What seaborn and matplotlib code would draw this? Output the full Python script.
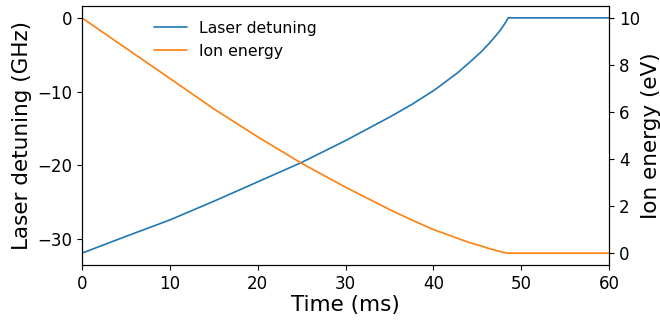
import matplotlib
matplotlib.use("Agg")
import matplotlib.pyplot as plt
import seaborn as sns
import pandas as pd

time_ms = [0, 5.06, 10, 14.94, 20.07, 25, 30.07, 35.1, 37.6, 40.1, 42.7, 44.0,
           45.4, 46.4, 46.9, 47.6, 48.0, 48.3, 48.5, 60]
detuning_ghz = [-31.9, -29.6, -27.4, -24.9, -22.2, -19.6, -16.6, -13.4, -11.7, -9.8, -7.5, -6.15,
                -4.65, -3.4, -2.7, -1.7, -1.0, -0.45, 0, 0]
energy_ev = [10, 8.70, 7.43, 6.15, 4.93, 3.82, 2.79, 1.84, 1.40, 0.99, 0.64, 0.46,
             0.31, 0.19, 0.14, 0.07, 0.03, 0.01, 0, 0]

df = pd.DataFrame({"t": time_ms, "det": detuning_ghz, "E": energy_ev})

sns.set_style("ticks")
plt.rcParams["font.family"] = ["DejaVu Sans"]
plt.rcParams["text.color"] = "black"
plt.rcParams["axes.labelcolor"] = "black"

fig = plt.figure(figsize=(6.6, 3.2), dpi=100)
ax = fig.add_axes([0.124, 0.172, 0.799, 0.809])
ax2 = ax.twinx()

sns.lineplot(data=df, x="t", y="det", ax=ax, color="#1f77b4", lw=1.2,
             label="Laser detuning", legend=False, sort=False)
sns.lineplot(data=df, x="t", y="E", ax=ax2, color="#ff7f0e", lw=1.2,
             label="Ion energy", legend=False, sort=False)

ax.set_xlim(0, 60)
ax.set_xticks([0, 10, 20, 30, 40, 50, 60])
ax.set_yticks([0, -10, -20, -30])
ax2.set_yticks([0, 2, 4, 6, 8, 10])
ax.set_xlabel("Time (ms)", fontsize=15.5, labelpad=2, color="black")
ax.set_ylabel("Laser detuning (GHz)", fontsize=15.5, labelpad=4, color="black")
ax2.set_ylabel("Ion energy (eV)", fontsize=15.5, labelpad=1, color="black")
for a in (ax, ax2):
    a.tick_params(labelsize=12, length=3.5, width=0.8, colors="black")
    for s in a.spines.values():
        s.set_color("black")
        s.set_linewidth(0.8)
        s.set_visible(True)

h1, l1 = ax.get_legend_handles_labels()
h2, l2 = ax2.get_legend_handles_labels()
leg = ax.legend(h1 + h2, l1 + l2, loc="upper left", bbox_to_anchor=(0.11, 0.998),
                frameon=False, fontsize=11.3, handlelength=2.1, handletextpad=0.8,
                labelspacing=0.5)
for t in leg.get_texts():
    t.set_color("black")

fig.savefig("out.png", dpi=100)
